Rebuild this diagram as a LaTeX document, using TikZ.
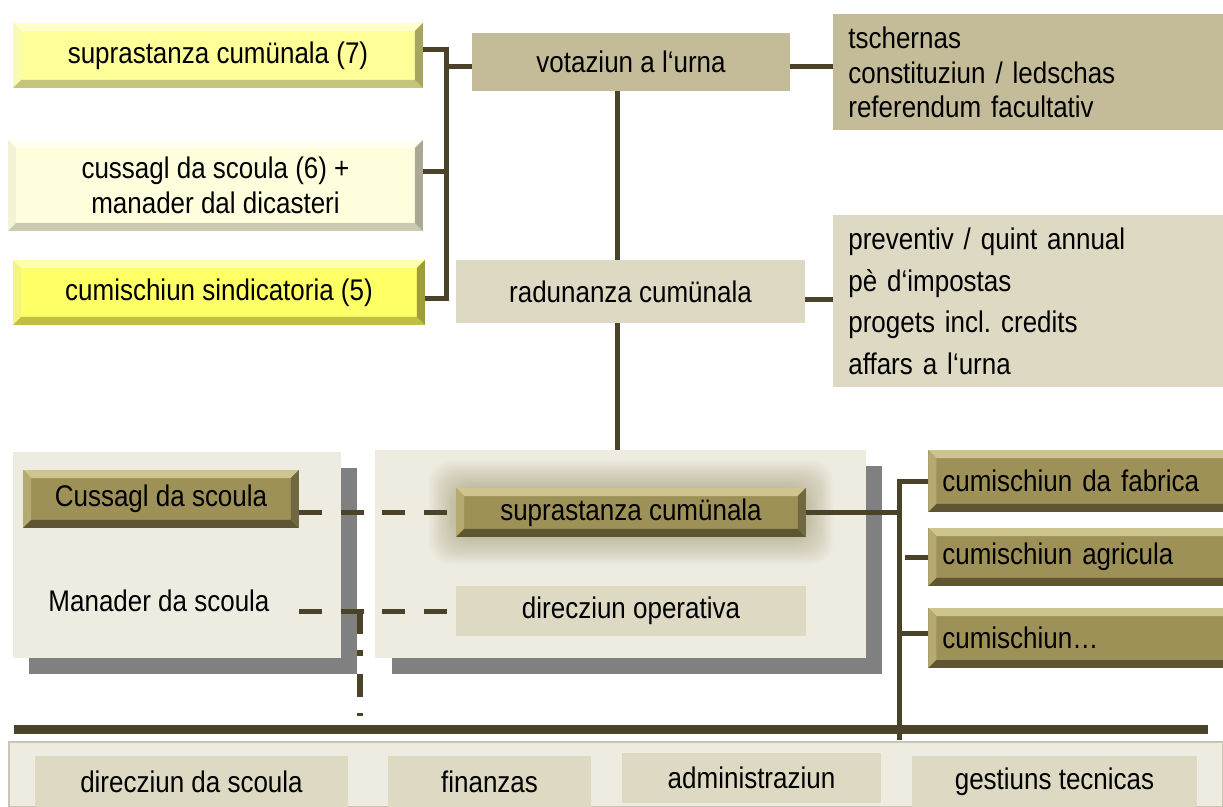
\documentclass[tikz,border=0pt]{standalone}
\usepackage{fontspec}
\setmainfont{Liberation Sans}[FakeStretch=0.87]
\usepackage{xcolor}
\usepackage{tikz}
\frenchspacing

\definecolor{linec}{HTML}{4A4229}
\definecolor{khaki}{HTML}{C4BC98}
\definecolor{beige}{HTML}{DDD9C3}
\definecolor{panelc}{HTML}{EEECE1}
\definecolor{edgec}{HTML}{C9C5B5}
\definecolor{shadowc}{HTML}{808080}
\definecolor{glowc}{HTML}{8C8050}
\definecolor{olivec}{HTML}{9D9157}
\definecolor{olivetop}{HTML}{CDC48E}
\definecolor{oliveleft}{HTML}{B4AA72}
\definecolor{olivebot}{HTML}{5E5632}
\definecolor{oliveright}{HTML}{706840}
\definecolor{yelA}{HTML}{FFFF99}
\definecolor{yelAtop}{HTML}{FFFFCC}
\definecolor{yelAleft}{HTML}{FAFAB4}
\definecolor{yelAbot}{HTML}{C4C47A}
\definecolor{yelAright}{HTML}{A6A662}
\definecolor{yelB}{HTML}{FFFFDD}
\definecolor{yelBtop}{HTML}{FFFFF2}
\definecolor{yelBleft}{HTML}{F2F2D4}
\definecolor{yelBbot}{HTML}{CACAB2}
\definecolor{yelBright}{HTML}{A9A996}
\definecolor{yelC}{HTML}{FFFF66}
\definecolor{yelCtop}{HTML}{FFFFB0}
\definecolor{yelCleft}{HTML}{F5F57E}
\definecolor{yelCbot}{HTML}{BFBF44}
\definecolor{yelCright}{HTML}{9E9E38}

\newcommand\bevw{0.16cm}
\newcommand\txt{\fontsize{17}{20}\selectfont}

\tikzset{
  every node/.style={font=\txt, text=black},
  bevel/.style n args={5}{fill=#1, inner sep=0pt, align=center, path picture={
    \fill[#2] (path picture bounding box.north west) -- (path picture bounding box.north east)
      -- ([shift={(-\bevw,-\bevw)}]path picture bounding box.north east)
      -- ([shift={(\bevw,-\bevw)}]path picture bounding box.north west) -- cycle;
    \fill[#3] (path picture bounding box.north west) -- (path picture bounding box.south west)
      -- ([shift={(\bevw,\bevw)}]path picture bounding box.south west)
      -- ([shift={(\bevw,-\bevw)}]path picture bounding box.north west) -- cycle;
    \fill[#4] (path picture bounding box.south west) -- (path picture bounding box.south east)
      -- ([shift={(-\bevw,\bevw)}]path picture bounding box.south east)
      -- ([shift={(\bevw,\bevw)}]path picture bounding box.south west) -- cycle;
    \fill[#5] (path picture bounding box.north east) -- (path picture bounding box.south east)
      -- ([shift={(-\bevw,\bevw)}]path picture bounding box.south east)
      -- ([shift={(-\bevw,-\bevw)}]path picture bounding box.north east) -- cycle;
  }},
  olivebox/.style={bevel={olivec}{olivetop}{oliveleft}{olivebot}{oliveright}},
  rightbox/.style={olivebox, anchor=west, align=left, text width=5.62cm, inner xsep=0.28cm, minimum width=5.9cm},
  flatbox/.style={fill=beige, inner sep=0pt},
  listbox/.style={anchor=north west, align=left, text width=7.2cm, inner xsep=0.3cm, minimum width=7.8cm},
  conn/.style={draw=linec, line width=0.1cm},
  dashline/.style={conn, dash pattern=on 0.46cm off 0.37cm},
  dashdot/.style={conn, line width=0.11cm, dash pattern=on 0.46cm off 0.32cm on 0.12cm off 0.36cm}
}

\begin{document}
\begin{tikzpicture}[x=0.02cm, y=-0.02cm]
	\useasboundingbox (0,0) rectangle (1223,807);

	% panels with shadows
	\fill[shadowc] (29,468) rectangle (357,674);
	\fill[panelc] (13,452) rectangle (341,658);
	\fill[shadowc] (392,466) rectangle (882,674);
	\fill[panelc] (375,450) rectangle (866,658);
	\fill[panelc, draw=edgec, line width=0.6pt] (9,742) rectangle (1223,807);

	% glow round the suprastanza
	\foreach \g in {1,3,...,27}
		\fill[glowc, opacity=0.035, rounded corners=12pt] (456-\g,488-\g) rectangle (806+\g,537+\g);

	% upper part
	\node[bevel={yelA}{yelAtop}{yelAleft}{yelAbot}{yelAright}, minimum width=8.2cm, minimum height=1.3cm] (sup7) at (218,55.5) {suprastanza cumünala (7)};
	\node[bevel={yelB}{yelBtop}{yelBleft}{yelBbot}{yelBright}, minimum width=8.3cm, minimum height=1.82cm] (cus6) at (215.5,185.5) {cussagl da scoula (6) +\\manader dal dicasteri};
	\node[bevel={yelC}{yelCtop}{yelCleft}{yelCbot}{yelCright}, minimum width=8.24cm, minimum height=1.3cm] (sind5) at (219,292.5) {cumischiun sindicatoria (5)};

	\node[fill=khaki, inner sep=0pt, minimum width=6.36cm, minimum height=1.16cm] (votaz) at (631,62) {votaziun a l‘urna};
	\node[listbox, fill=khaki, minimum height=2.32cm, font=\fontsize{17}{19.8}\selectfont] (tschern) at (833,14) {tschernas\\constituziun / ledschas\\referendum facultativ};
	\node[flatbox, minimum width=6.98cm, minimum height=1.26cm] (radun) at (630.5,291.5) {radunanza cumünala};
	\node[listbox, fill=beige, minimum height=3.44cm, font=\fontsize{17}{23.8}\selectfont] (list2) at (833,215) {preventiv / quint annual\\pè d‘impostas\\progets incl. credits\\affars a l‘urna};

	% lower part
	\node[olivebox, minimum width=5.52cm, minimum height=1.16cm] (cusS) at (161,499) {Cussagl da scoula};
	\node (manad) at (159,601) {Manader da scoula};
	\node[olivebox, minimum width=7cm, minimum height=0.98cm] (supM) at (631,512.5) {suprastanza cumünala};
	\node[flatbox, minimum width=7cm, minimum height=1cm] (dirop) at (631,611) {direcziun operativa};

	\node[rightbox, minimum height=1.24cm] (fabr) at (928,481) {cumischiun da fabrica};
	\node[rightbox, minimum height=1.16cm] (agri) at (928,557) {cumischiun agricula};
	\node[rightbox, minimum height=1.2cm] (cumx) at (928,638) {cumischiun…};

	\node[flatbox, minimum width=6.26cm, minimum height=1.02cm] (dirsc) at (191.5,781.5) {direcziun da scoula};
	\node[flatbox, minimum width=4.06cm, minimum height=1.02cm] (finan) at (489.5,781.5) {finanzas};
	\node[flatbox, minimum width=5.18cm, minimum height=1cm] (admin) at (751.5,778) {administraziun};
	\node[flatbox, minimum width=5.7cm, minimum height=1.02cm] (gest) at (1054.5,781.5) {gestiuns tecnicas};

	% connectors
	\coordinate (b0) at (446,67);
	\coordinate (b1) at (446,50);
	\coordinate (b2) at (446,172);
	\coordinate (b3) at (446,299);
	\draw[conn] (b1 -| sup7.east) -- (b1) -- (b3) -- (b3 -| sind5.east);
	\draw[conn] (b2 -| cus6.east) -- (b2);
	\draw[conn] (b0) -- (b0 -| votaz.west);
	\draw[conn] (b0 -| votaz.east) -- (b0 -| tschern.west);

	\coordinate (spine) at (617,450);
	\coordinate (ra) at (0,300);
	\draw[conn] (votaz.south -| spine) -- (radun.north -| spine);
	\draw[conn] (radun.south -| spine) -- (spine);
	\draw[conn] (radun.east |- ra) -- (list2.west |- ra);

	\draw[dashline] (supM.west -| cusS.east) -- (supM.west);
	\draw[dashline] (dirop.west -| cusS.east) -- (dirop.west);
	\coordinate (ddtop) at (360,611);
	\draw[dashdot] (ddtop) -- ++(0,105);

	\coordinate (barL) at (14,729.5);
	\coordinate (barR) at (1208,729.5);
	\draw[linec, line width=0.18cm] (barL) -- (barR);

	\coordinate (trunk) at (899,740);
	\draw[conn] (supM.east) -- (supM.east -| trunk);
	\draw[conn] (fabr.west) -- (fabr.west -| trunk) -- (trunk);
	\draw[conn] ([xshift=-0.46cm]agri.west) -- (agri.west);
	\draw[conn] ([yshift=0.1cm]cumx.west -| trunk) -- ([yshift=0.1cm]cumx.west);

\end{tikzpicture}
\end{document}
